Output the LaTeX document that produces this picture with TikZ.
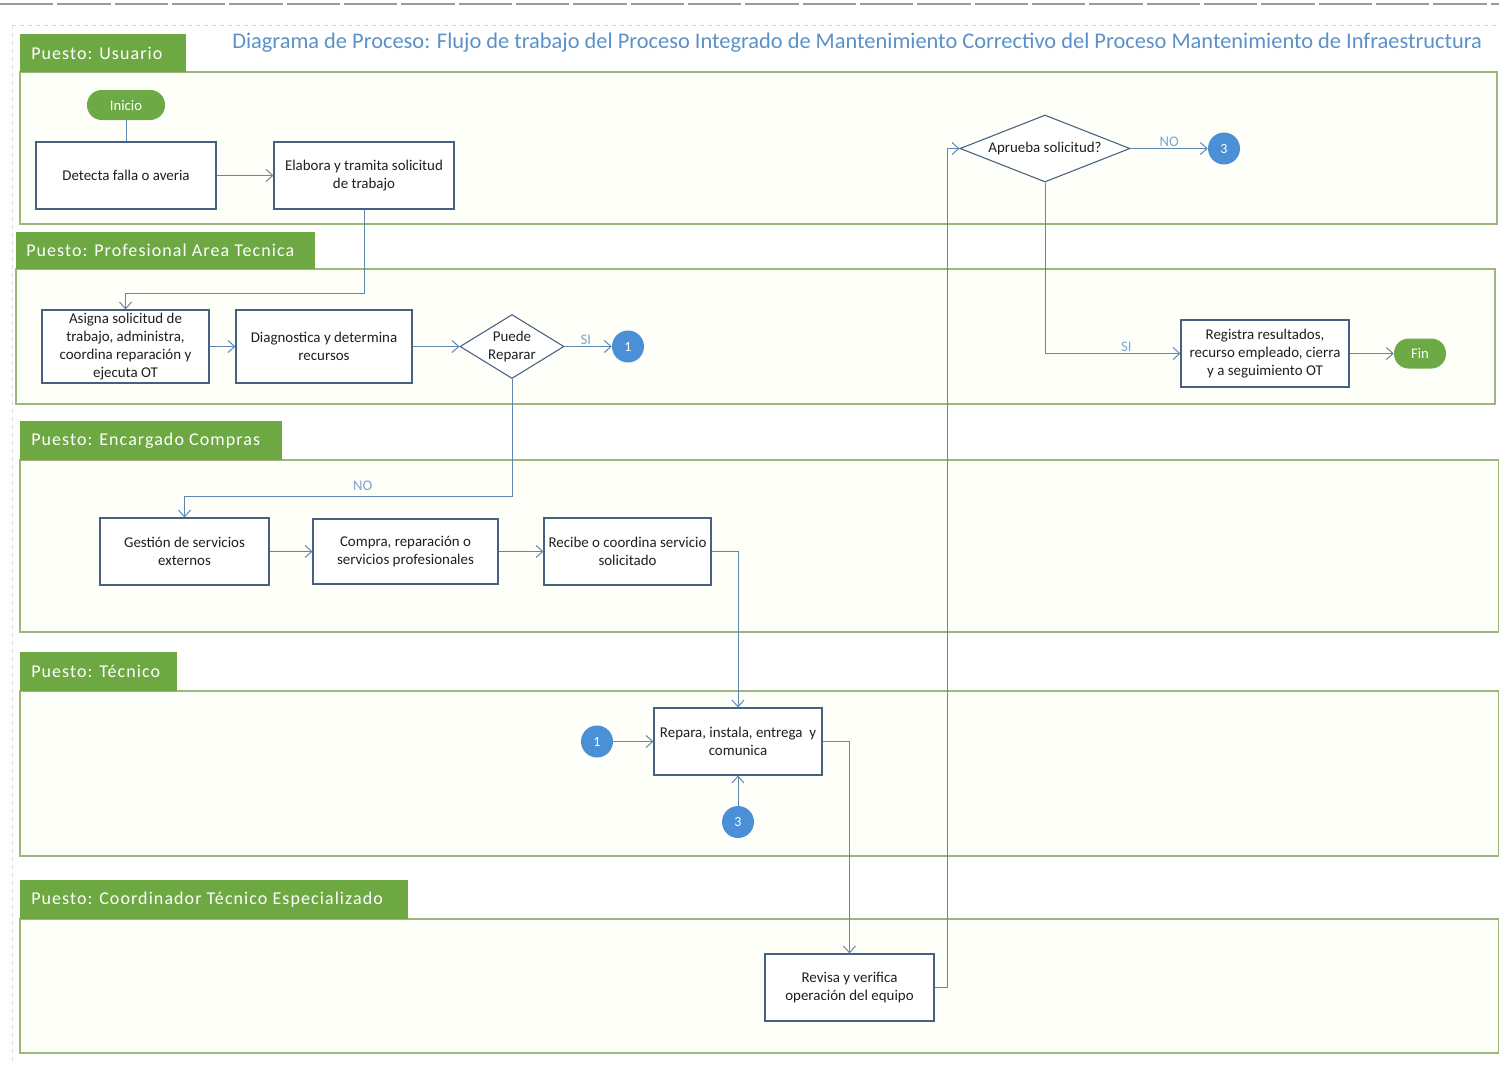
\documentclass[tikz,border=0pt]{standalone}
\usepackage{fontspec}
\setmainfont{Carlito}
\usetikzlibrary{arrows.meta,shapes.geometric}

\definecolor{lanegreen}{HTML}{9DB67C}
\definecolor{tabgreen}{HTML}{6DA843}
\definecolor{lanefill}{HTML}{FFFFFA}
\definecolor{boxline}{HTML}{46617F}
\definecolor{flowline}{HTML}{5F87B2}
\definecolor{titleblue}{HTML}{5B90C8}
\definecolor{labelblue}{HTML}{7CA6D2}
\definecolor{bubble}{HTML}{4B8FD6}
\definecolor{pill}{HTML}{6DAA45}
\definecolor{pagegray}{HTML}{9A9A9A}

\begin{document}
\begin{tikzpicture}[x=0.75pt,y=-0.75pt,
  lane/.style={draw=lanegreen,line width=0.9pt,fill=lanefill},
  tabfill/.style={fill=tabgreen},
  tabtext/.style={anchor=west,text=white,inner sep=0pt,
    font=\fontsize{13.5}{15}\selectfont\addfontfeatures{LetterSpace=6}},
  proc/.style={draw=boxline,fill=white,line width=0.8pt,align=center,inner sep=1pt,
    text=black!88,font=\fontsize{11.2}{13.3}\selectfont},
  sz/.style 2 args={minimum width=#1*0.75pt,minimum height=#2*0.75pt},
  decision/.style={diamond,draw=boxline,fill=white,line width=0.8pt,align=center,inner sep=0pt,
    text=black!88,font=\fontsize{11.2}{13.3}\selectfont},
  terminal/.style={rounded corners=11pt,fill=pill,text=white,minimum height=22.5pt,
    font=\fontsize{11}{12}\selectfont},
  connector/.style={circle,fill=bubble,text=white,minimum size=24pt,inner sep=0pt,
    font=\fontsize{10.5}{12}\selectfont},
  flow/.style={draw=flowline,line width=0.75pt,-{Straight Barb[length=5pt,width=9pt]}},
  plain/.style={draw=flowline,line width=0.75pt},
  answer/.style={text=labelblue,font=\fontsize{11}{12}\selectfont,inner sep=1pt}
]
\useasboundingbox (0,0) rectangle (1499,1065);

% page outline
\draw[pagegray,line width=1.6pt,dash pattern=on 40pt off 3pt] (0,4) -- (1499,4);
\draw[black!15,line width=0.5pt,dashed] (12,25) -- (1499,25);
\draw[black!15,line width=0.5pt,dashed] (12,25) -- (12,1065);

% swimlanes
\draw[lane] (20,72) rectangle (1497,224);
\fill[tabfill] (20,34) rectangle (186,72);
\node[tabtext] (t1) at (31,53) {Puesto: Usuario};

\draw[lane] (16,269) rectangle (1495,404);
\fill[tabfill] (16,232) rectangle (315,269);
\node[tabtext] (t2) at (26,250.5) {Puesto: Profesional Area Tecnica};

\draw[lane] (20,460) rectangle (1499,632);
\fill[tabfill] (20,421) rectangle (282,460);
\node[tabtext] (t3) at (31,440.5) {Puesto: Encargado Compras};

\draw[lane] (20,691) rectangle (1499,856);
\fill[tabfill] (20,652) rectangle (177,691);
\node[tabtext] (t4) at (31,671.5) {Puesto: Técnico};

\draw[lane] (20,919) rectangle (1499,1053);
\fill[tabfill] (20,880) rectangle (408,919);
\node[tabtext] (t5) at (31,899.5) {Puesto: Coordinador Técnico Especializado};

% title
\node[anchor=west,text=titleblue,inner sep=0pt,font=\fontsize{16.8}{19}\selectfont] (title) at (232,43)
  {Diagrama de Proceso: Flujo de trabajo del Proceso Integrado de Mantenimiento Correctivo del Proceso Mantenimiento de Infraestructura};

% activities
\node[terminal,minimum width=58.5pt] (inicio) at (126,105) {Inicio};
\node[proc,sz={180}{67}] (detecta) at (126,175.5) {Detecta falla o averia};
\node[proc,sz={180}{67}] (elabora) at (364,175.5) {Elabora y tramita solicitud\\de trabajo};

\node[proc,sz={167}{73}] (asigna) at (125.5,346.5) {Asigna solicitud de\\trabajo, administra,\\coordina reparación y\\ejecuta OT};
\node[proc,sz={176}{73}] (diag) at (324,346.5) {Diagnostica y determina\\recursos};
\node[decision,sz={104}{64},shape aspect=1.625] (puede) at (512,346.5) {Puede\\Reparar};
\node[connector] (c1a) at (628,346.5) {1};

\node[decision,sz={170}{67},shape aspect=2.54] (aprueba) at (1045,148.5) {Aprueba solicitud?};
\node[connector] (c3a) at (1224,148.5) {3};
\node[proc,sz={168}{67}] (registra) at (1265,353.5) {Registra resultados,\\recurso empleado, cierra\\y a seguimiento OT};
\node[terminal,minimum width=39pt] (fin) at (1420,353.5) {Fin};

\node[proc,sz={169}{67}] (gestion) at (184.5,551.5) {Gestión de servicios\\externos};
\node[proc,sz={185}{65}] (compra) at (405.5,551.5) {Compra, reparación o\\servicios profesionales};
\node[proc,sz={167}{67}] (recibe) at (627.5,551.5) {Recibe o coordina servicio\\solicitado};

\node[proc,sz={168}{67}] (repara) at (738,741.5) {Repara, instala, entrega\ \ y\\comunica};
\node[connector] (c1b) at (597,741.5) {1};
\node[connector] (c3b) at (738,822) {3};

\node[proc,sz={169}{67}] (revisa) at (849.5,987.5) {Revisa y verifica\\operación del equipo};

% flow
\draw[plain] (inicio.south) -- (detecta.north);
\draw[flow] (detecta.east) -- (elabora.west);
\draw[flow] (elabora.south) -- ++(0,84) -| (asigna.north);
\draw[flow] (asigna.east) -- (diag.west);
\draw[flow] (diag.east) -- (puede.west);
\draw[flow] (puede.east) -- node[answer,above,pos=0.45] (si1) {SI} (c1a.west);
\draw[flow] (puede.south) -- ++(0,117) -| node[answer,above=3pt,pos=0.228] (no1) {NO} (gestion.north);
\draw[flow] (gestion.east) -- (compra.west);
\draw[flow] (compra.east) -- (recibe.west);
\draw[flow] (recibe.east) -| (repara.north);
\draw[flow] (c1b.east) -- (repara.west);
\draw[flow] (c3b.north) -- (repara.south);
\draw[flow] (repara.east) -| (revisa.north);
\draw[flow] (revisa.east) -- ++(13,0) |- (aprueba.west);
\draw[flow] (aprueba.east) -- node[answer,above,pos=0.5] (no2) {NO} (c3a.west);
\draw[flow] (aprueba.south) |- node[answer,above,pos=0.8] (si2) {SI} (registra.west);
\draw[flow] (registra.east) -- (fin.west);
\end{tikzpicture}
\end{document}
